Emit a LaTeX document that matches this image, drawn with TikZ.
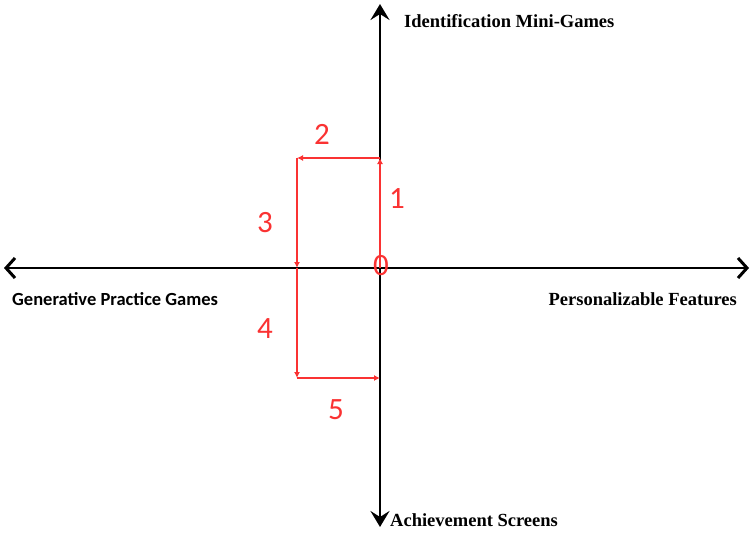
\documentclass[tikz,border=0pt]{standalone}
\usepackage{fontspec}
\setmainfont{Liberation Serif}
\newfontfamily\calib{Carlito}
\usetikzlibrary{arrows.meta}
\definecolor{rd}{RGB}{250,50,50}
\tikzset{
  axis/.style={line width=2.8pt, black, {Straight Barb[length=9pt,width=20pt,line width=3pt]}-{Straight Barb[length=9pt,width=20pt,line width=3pt]}},
  vaxis/.style={line width=2.8pt, black, {Stealth[length=16pt,width=19pt,inset=6pt]}-{Stealth[length=16pt,width=19pt,inset=6pt]}},
  path/.style={line width=1.8pt, rd, -{Latex[length=6pt,width=6pt]}},
  lab/.style={font=\bfseries\fontsize{18.5}{20}\selectfont, inner sep=0pt},
  num/.style={font=\calib\fontsize{31}{33}\selectfont, text=rd, inner sep=0pt}
}
\begin{document}
\begin{tikzpicture}[x=1pt,y=-1pt]
\useasboundingbox (0,0) rectangle (751,532);
\coordinate (L) at (4,268);
\coordinate (R) at (749,268);
\coordinate (T) at (380,4);
\coordinate (B) at (380,527);
\coordinate (O) at (380,268);
\coordinate (A) at (380,158);
\coordinate (Bc) at (297,158);
\coordinate (C) at (297,268);
\coordinate (D) at (297,378);
\coordinate (E) at (380,378);
\draw[axis] (L) -- (R);
\draw[vaxis] (B) -- (T);
\draw[path] (O) -- (A);
\draw[path] (A) -- (Bc);
\draw[path] (Bc) -- (C);
\draw[path] (C) -- (D);
\draw[path] (D) -- (E);
\node[lab, anchor=west] (ti) at (404,21) {Identification Mini-Games};
\node[lab, anchor=west] (bi) at (390,520) {Achievement Screens};
\node[lab, anchor=east] (ri) at (737,299) {Personalizable Features};
\node[lab, font=\calib\bfseries\fontsize{18.5}{20}\selectfont, anchor=west] (li) at (12,299) {Generative Practice Games};
\node[num] (n0) at (381,266) {0};
\node[num] (n1) at (397,199) {1};
\node[num] (n2) at (322,134) {2};
\node[num] (n3) at (265,223) {3};
\node[num] (n4) at (265,329) {4};
\node[num] (n5) at (336,410) {5};
\end{tikzpicture}
\end{document}
